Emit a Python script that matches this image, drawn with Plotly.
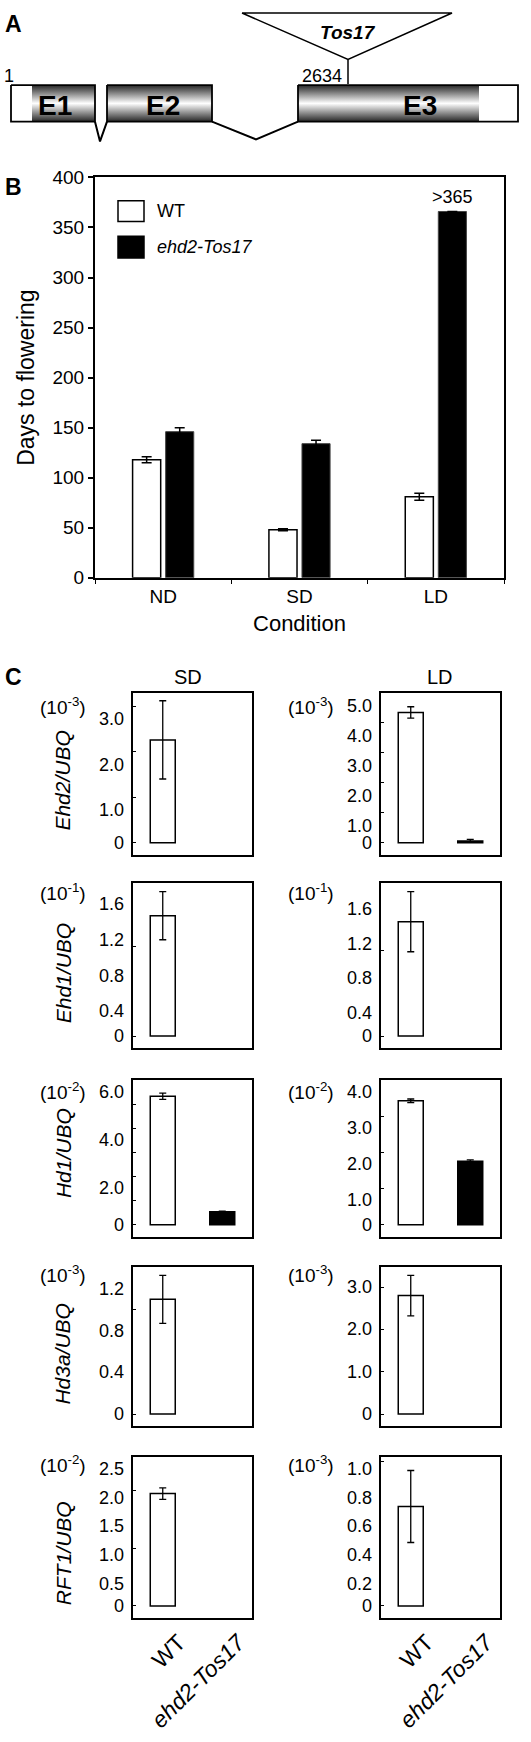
import plotly.graph_objects as go

W, H = 531, 1742
FONT = "Liberation Sans, Arial, sans-serif"

# ---------------- Panel A: gene model (schematic drawing units) ----------------
utr_spans = [(11, 32), (479, 518)]
exon_labels = ["E1", "E2", "E3"]
exon_spans = [(32, 95), (107, 212), (298, 479)]
exon_label_x = [55, 163, 420]
gene_boxes = [(11, 95), (107, 212), (298, 518)]
intron_paths = [((95, 100, 107), 133), ((212, 256, 298), 131)]
gene_y = (76, 113)
start_label = "1"
insert_label = "2634"
insert_name = "Tos17"
insert_x = 348
triangle_x = (242, 452)
triangle_y = (3, 50)
stem_bottom = 75

# ---------------- Panel B: days to flowering ----------------
conditions = ["ND", "SD", "LD"]
wt_days = [118, 48, 81]
wt_days_err = [3, 1, 3.5]
mut_days = [146, 134, 366]
mut_days_err = [4, 3.5, None]
b_yticks = [0, 50, 100, 150, 200, 250, 300, 350, 400]

# ---------------- Panel C: expression ----------------
genes = ["Ehd2", "Ehd1", "Hd1", "Hd3a", "RFT1"]
genotypes = ["WT", "ehd2-Tos17"]
sd_wt = [2.26, 1.35, 5.35, 1.10, 1.95]
sd_wt_err = [0.86, 0.27, 0.13, 0.23, 0.10]
sd_mut = [0, 0, 0.54, 0, 0]
sd_mut_err = [None, None, 0.03, None, None]
ld_wt = [4.34, 1.33, 3.44, 2.80, 0.69]
ld_wt_err = [0.19, 0.35, 0.05, 0.48, 0.25]
ld_mut = [0.06, 0, 1.76, 0, 0]
ld_mut_err = [0.05, None, 0.04, None, None]
sd_exp = [-3, -1, -2, -3, -2]
ld_exp = [-3, -1, -2, -3, -3]
sd_ymax = [3.5, 1.8, 6.0, 1.4, 2.5]
ld_ymax = [5.0, 1.8, 4.0, 3.5, 1.0]
sd_labels = [[0, 1, 2, 3], [0, 0.4, 0.8, 1.2, 1.6], [0, 2, 4, 6], [0, 0.4, 0.8, 1.2],
             [0, 0.5, 1.0, 1.5, 2.0, 2.5]]
ld_labels = [[0, 1, 2, 3, 4, 5], [0, 0.4, 0.8, 1.2, 1.6], [0, 1, 2, 3, 4], [0, 1, 2, 3],
             [0, 0.2, 0.4, 0.6, 0.8, 1.0]]
sd_step = [0.5, 0.2, 1.0, 0.2, 0.5]
ld_step = [0.5, 0.2, 0.5, 0.5, 0.1]

# layout (pixel geometry)
rows_px = [(691, 855), (884, 1050.7), (1082.7, 1241.7), (1272.7, 1433.3), (1464.5, 1627.5)]
cols_px = [(133, 252), (381, 500)]
label_drop = [13, 11, 11, 0, 7]
exp_drop = [13, 9, 11, 7, 7]
ytitle_py = [780, 975, 1157, 1360, 1562]


def py(p):
    return 1 - p / H


def px(p):
    return p / W


def tfont(size):
    return dict(size=size, family=FONT, color="black")


fig = go.Figure()
ann = []
shapes = []

# ---- Panel A drawing ----
grad = dict(type="vertical", colorscale=[[0, "#262626"], [0.5, "#ffffff"], [1, "#262626"]])
for (a, b) in exon_spans:
    fig.add_trace(go.Scatter(x=[a, b, b, a, a], y=[gene_y[0], gene_y[0], gene_y[1], gene_y[1], gene_y[0]],
                             mode="lines", fill="toself", fillgradient=grad, line=dict(width=0),
                             xaxis="x", yaxis="y", showlegend=False, hoverinfo="skip"))
for (a, b) in gene_boxes:
    fig.add_trace(go.Scatter(x=[a, b, b, a, a], y=[gene_y[0], gene_y[0], gene_y[1], gene_y[1], gene_y[0]],
                             mode="lines", line=dict(color="black", width=1.8),
                             xaxis="x", yaxis="y", showlegend=False, hoverinfo="skip"))
for (xs, depth) in intron_paths:
    fig.add_trace(go.Scatter(x=list(xs), y=[gene_y[1], depth, gene_y[1]], mode="lines",
                             line=dict(color="black", width=2), xaxis="x", yaxis="y",
                             showlegend=False, hoverinfo="skip"))
fig.add_trace(go.Scatter(x=[triangle_x[0], triangle_x[1], insert_x, triangle_x[0]],
                         y=[triangle_y[0], triangle_y[0], triangle_y[1], triangle_y[0]],
                         mode="lines", line=dict(color="black", width=1.5), xaxis="x", yaxis="y",
                         showlegend=False, hoverinfo="skip"))
fig.add_trace(go.Scatter(x=[insert_x, insert_x], y=[triangle_y[1], stem_bottom], mode="lines",
                         line=dict(color="black", width=1.5), xaxis="x", yaxis="y",
                         showlegend=False, hoverinfo="skip"))
for name, xx in zip(exon_labels, exon_label_x):
    ann.append(dict(text=f"<b>{name}</b>", x=xx, y=sum(gene_y) / 2 + 2, xref="x", yref="y",
                    xanchor="center", yanchor="middle", showarrow=False, font=tfont(28)))
ann.append(dict(text=f"<b><i>{insert_name}</i></b>", x=insert_x, y=23, xref="x", yref="y",
                xanchor="center", yanchor="middle", showarrow=False, font=tfont(19)))
ann.append(dict(text=start_label, x=gene_boxes[0][0] - 9, y=67, xref="x", yref="y", xanchor="left",
                yanchor="middle", showarrow=False, font=tfont(18)))
ann.append(dict(text=insert_label, x=insert_x - 4, y=67, xref="x", yref="y", xanchor="right",
                yanchor="middle", showarrow=False, font=tfont(18)))

# ---- Panel B ----
fig.add_trace(go.Bar(x=conditions, y=wt_days, name="WT",
                     marker=dict(color="white", line=dict(color="black", width=1.5)),
                     error_y=dict(type="data", array=wt_days_err, color="black", thickness=1.5, width=5),
                     xaxis="x2", yaxis="y2", showlegend=False))
fig.add_trace(go.Bar(x=conditions, y=mut_days, name="ehd2-Tos17",
                     marker=dict(color="black", line=dict(color="#444", width=1)),
                     error_y=dict(type="data", array=mut_days_err, color="black", thickness=1.5, width=5),
                     xaxis="x2", yaxis="y2", showlegend=False))
ann.append(dict(text="&gt;365", x="LD", y=mut_days[2], xref="x2", yref="y2", xshift=16.5,
                xanchor="center", yanchor="bottom", yshift=2, showarrow=False, font=tfont(18)))
# legend
b_x0, b_x1, b_y0, b_y1 = 95, 504, 169.5, 574.7
leg = [("WT", "white", 193, 214, False), ("ehd2-Tos17", "black", 229, 251, True)]
for lab, col, t, b, it in leg:
    shapes.append(dict(type="rect", xref="paper", yref="paper", x0=px(118), x1=px(144), y0=py(b), y1=py(t),
                       fillcolor=col, line=dict(color="black", width=1.5)))
    ann.append(dict(text=f"<i>{lab}</i>" if it else lab, x=px(155), y=py((t + b) / 2), xref="paper",
                    yref="paper", xanchor="left", yanchor="middle", showarrow=False, font=tfont(18)))

# ---- Panel C ----
cond_sets = [(sd_wt, sd_wt_err, sd_mut, sd_mut_err, sd_exp, sd_ymax, sd_labels, sd_step),
             (ld_wt, ld_wt_err, ld_mut, ld_mut_err, ld_exp, ld_ymax, ld_labels, ld_step)]
layout_axes = {}
for r in range(5):
    for c in range(2):
        wt, wte, mu, mue, ex, ymax, labs, step = cond_sets[c]
        idx = 3 + r * 2 + c
        vals = [wt[r], mu[r]]
        shown = [v if v > 0 else None for v in vals]  # not-detected values draw no bar
        fig.add_trace(go.Bar(x=genotypes, y=shown, width=0.42,
                             marker=dict(color=["white", "black"], line=dict(color="black", width=1.5)),
                             error_y=dict(type="data", array=[wte[r], mue[r]], color="black", thickness=1.3,
                                          width=3.5),
                             xaxis=f"x{idx}", yaxis=f"y{idx}", showlegend=False))
        top, bot = rows_px[r]
        x0, x1 = cols_px[c]
        xa = dict(domain=[px(x0), px(x1)], anchor=f"y{idx}", type="category",
                  range=[-0.5, 1.5], showline=True, mirror=True, linewidth=2,
                  linecolor="black", ticks="", showgrid=False, showticklabels=(r == 4),
                  categoryorder="array", categoryarray=genotypes)
        if r == 4:
            xa.update(tickangle=-45, tickvals=genotypes, ticktext=["WT", "<i>ehd2-Tos17</i>"],
                      tickfont=tfont(23), ticklabelshift=16)
        layout_axes[f"xaxis{idx}"] = xa
        layout_axes[f"yaxis{idx}"] = dict(domain=[py(bot), py(top)], anchor=f"x{idx}", range=[0, ymax],
                                          showline=True, mirror=True, linewidth=2, linecolor="black",
                                          ticks="inside", ticklen=3, tickwidth=1, tickcolor="black",
                                          tick0=0, dtick=step, showticklabels=False, showgrid=False,
                                          zeroline=False)
        for v in labs[r]:
            txt = "0" if v == 0 else f"{v:.1f}"
            ann.append(dict(text=txt, x=0, y=v, xref=f"x{idx} domain", yref=f"y{idx}", xanchor="right",
                            yanchor="middle", xshift=-7, yshift=0 if v == 0 else -label_drop[r],
                            showarrow=False, font=tfont(18)))
        ann.append(dict(text=f"(10<sup>{ex[r]}</sup>)", x=0, y=1, xref=f"x{idx} domain",
                        yref=f"y{idx} domain", xanchor="right", yanchor="middle", xshift=-45,
                        yshift=-exp_drop[r], showarrow=False, font=tfont(19)))
    ann.append(dict(text=f"<i>{genes[r]}/UBQ</i>", x=px(63), y=py(ytitle_py[r]), xref="paper", yref="paper",
                    xanchor="center", yanchor="middle", textangle=-90, showarrow=False, font=tfont(21)))

ann.append(dict(text="SD", x=px(188), y=py(675), xref="paper", yref="paper", xanchor="center",
                yanchor="middle", showarrow=False, font=tfont(20)))
ann.append(dict(text="LD", x=px(440), y=py(675), xref="paper", yref="paper", xanchor="center",
                yanchor="middle", showarrow=False, font=tfont(20)))
for letter, yy in [("A", 14), ("B", 179), ("C", 675)]:
    ann.append(dict(text=f"<b>{letter}</b>", x=px(3), y=py(yy), xref="paper", yref="paper", xanchor="left",
                    yanchor="middle", showarrow=False, font=tfont(23)))

fig.update_layout(
    width=W, height=H, margin=dict(l=0, r=0, t=0, b=0),
    paper_bgcolor="white", plot_bgcolor="white",
    font=dict(family=FONT, color="black"),
    barmode="group", bargap=0.515, bargroupgap=0.15,
    xaxis=dict(domain=[0, 1], range=[0, W], visible=False, anchor="y"),
    yaxis=dict(domain=[py(150), 1], range=[150, 0], visible=False, anchor="x"),
    xaxis2=dict(domain=[px(b_x0), px(b_x1)], anchor="y2", showline=True, mirror=True, linewidth=2,
                linecolor="black", ticks="outside", tickson="boundaries", ticklen=4, tickcolor="black",
                tickfont=tfont(19), showgrid=False,
                title=dict(text="Condition", font=tfont(22), standoff=10)),
    yaxis2=dict(domain=[py(b_y1), py(b_y0)], anchor="x2", range=[0, 400], tickvals=b_yticks,
                showline=True, mirror=True, linewidth=2, linecolor="black", ticks="outside", ticklen=5,
                tickwidth=1.5, tickcolor="black", showgrid=False, zeroline=False,
                tickfont=tfont(19),
                title=dict(text="Days to flowering", font=tfont(23), standoff=11)),
    annotations=ann, shapes=shapes,
    **layout_axes,
)

fig.write_html("out.html", config={"displayModeBar": False},
               post_script="document.body.style.margin='0px';")
